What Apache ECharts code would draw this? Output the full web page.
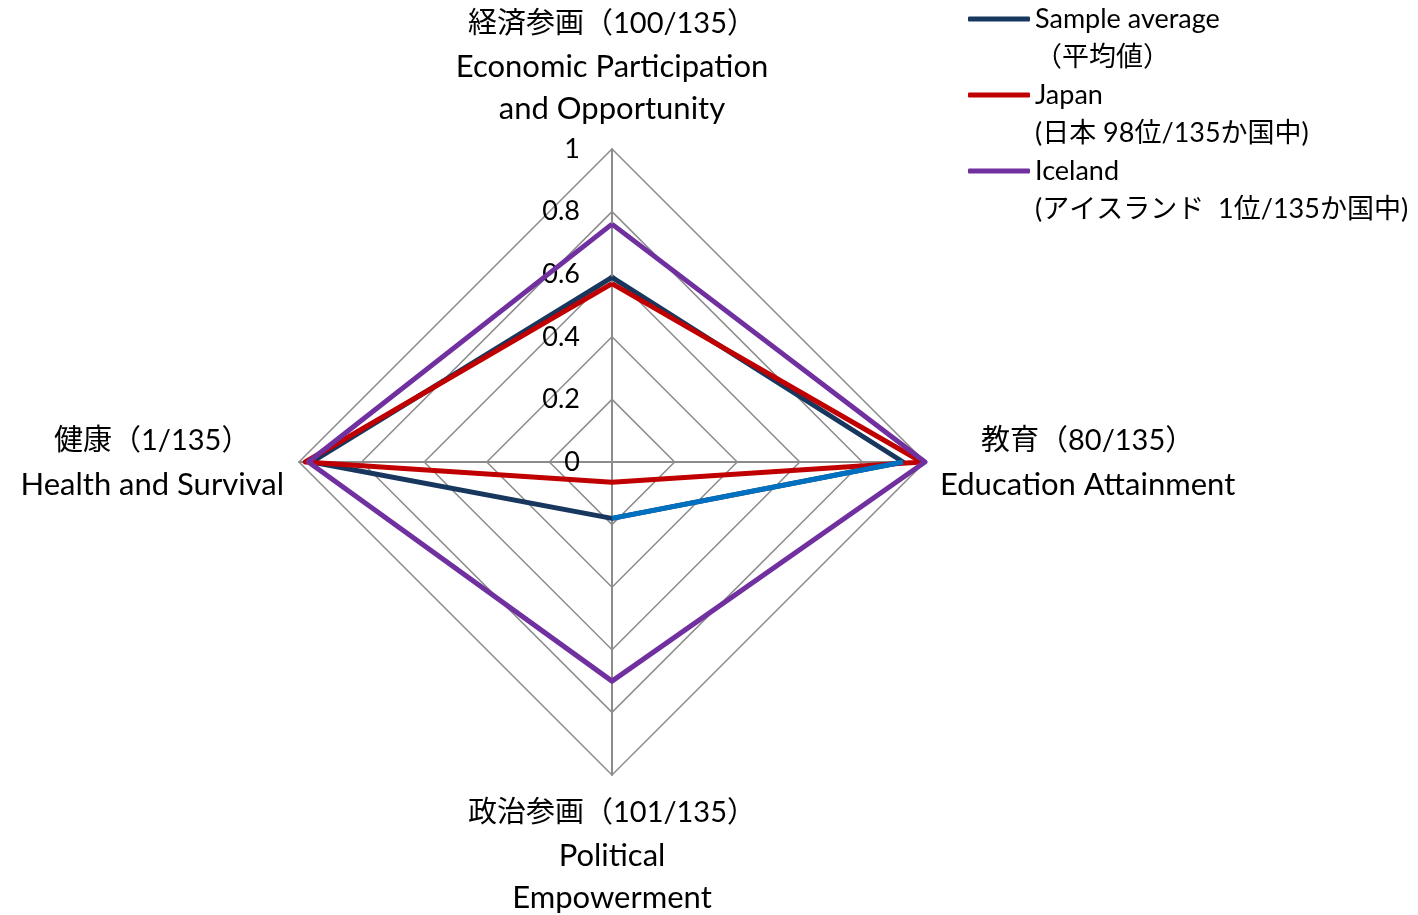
<!DOCTYPE html>
<html>
<head>
<meta charset="utf-8">
<script src="https://cdn.jsdelivr.net/npm/echarts@6/dist/echarts.min.js"></script>
<style>
  html, body { margin: 0; padding: 0; background: #fff; }
  #chart { width: 1418px; height: 915px; }
</style>
</head>
<body>
<div id="chart"></div>
<script>
// Axes, listed counterclockwise starting from the top
const axisNamesJa = ['経済参画（100/135）', '健康（1/135）', '政治参画（101/135）', '教育（80/135）'];
const axisNamesEn = [
  ['Economic Participation', 'and Opportunity'],
  ['Health and Survival'],
  ['Political', 'Empowerment'],
  ['Education Attainment']
];

// Scores in the same axis order: economic, health, political, education
const seriesNames = [
  'Sample average\n（平均値）',
  'Japan\n(日本 98位/135か国中)',
  'Iceland\n(アイスランド  1位/135か国中)'
];
const sampleAverage = [0.59, 0.96, 0.18, 0.93];
const japan = [0.57, 0.98, 0.065, 0.99];
const iceland = [0.76, 0.97, 0.70, 1.0];

// Scale ticks shown along the upward axis
const tickStep = 0.2;

const FONT = "Lato, 'Noto Sans CJK JP', sans-serif";
const colors = ['#17375E', '#C00000', '#7030A0'];
const segmentColor = '#0070C0';

const cx = 612, cy = 462, R = 313;

const chart = echarts.init(document.getElementById('chart'), null, { renderer: 'canvas' });

function radarSeries(name, values, color) {
  return {
    type: 'radar',
    name: name,
    symbol: 'none',
    lineStyle: { color: color, width: 5 },
    itemStyle: { color: color },
    data: [{ name: name, value: values }]
  };
}

const option = {
  backgroundColor: '#ffffff',
  animation: false,
  textStyle: { fontFamily: FONT },
  legend: {
    data: seriesNames,
    orient: 'vertical',
    left: 968,
    top: -38,
    padding: 0,
    itemWidth: 62,
    itemHeight: 5,
    itemGap: -38,
    icon: 'roundRect',
    selectedMode: false,
    formatter: function (name) { return '\n' + name; },
    textStyle: { fontFamily: FONT, fontSize: 27, color: '#000', lineHeight: 38 }
  },
  radar: {
    center: [cx, cy],
    radius: R,
    startAngle: 90,
    shape: 'polygon',
    splitNumber: 5,
    nameGap: 15,
    indicator: axisNamesJa.map(function (n) { return { name: n, min: 0, max: 1 }; }),
    axisName: {
      color: '#000',
      formatter: function (name) {
        const i = axisNamesJa.indexOf(name);
        // the label above the top vertex sits a little higher
        const suffix = i === 0 ? 'Top' : '';
        const lines = ['{ja' + suffix + '|' + name + '}'];
        axisNamesEn[i].forEach(function (l) {
          lines.push('{en' + suffix + '|' + l + '}');
        });
        return lines.join('\n');
      },
      rich: {
        ja: { fontFamily: FONT, fontSize: 29, lineHeight: 45, color: '#000', align: 'center' },
        en: { fontFamily: FONT, fontSize: 31, lineHeight: 42, color: '#000', align: 'center' },
        jaTop: { fontFamily: FONT, fontSize: 29, lineHeight: 45, color: '#000', align: 'center', padding: [0, 0, 8, 0] },
        enTop: { fontFamily: FONT, fontSize: 31, lineHeight: 42, color: '#000', align: 'center', padding: [0, 0, 8, 0] }
      }
    },
    axisLine: { lineStyle: { color: '#8c8c8c', width: 2 } },
    splitLine: { lineStyle: { color: '#8c8c8c', width: 1.5 } },
    splitArea: { show: false },
    axisTick: { show: false },
    axisLabel: { show: false }
  },
  // Cartesian frame laid over the radar square, used for the scale labels
  // and for the highlighted education–political segment of the average
  grid: { left: cx - R, top: cy - R, width: 2 * R, height: 2 * R, containLabel: false },
  xAxis: {
    type: 'value', min: -1, max: 1, show: false
  },
  yAxis: {
    type: 'value', min: -1, max: 1, interval: tickStep,
    position: 'left', offset: -R,
    axisLine: { show: false }, axisTick: { show: false }, splitLine: { show: false },
    axisLabel: {
      margin: 32,
      color: '#000',
      fontFamily: FONT,
      fontSize: 27,
      formatter: function (v) {
        if (v < -1e-9) return '';
        return String(Math.round(v * 10) / 10);
      }
    }
  },
  series: [
    radarSeries(seriesNames[0], sampleAverage, colors[0]),
    {
      type: 'line',
      name: 'segment',
      symbol: 'none',
      silent: true,
      lineStyle: { color: segmentColor, width: 5 },
      data: [[sampleAverage[3], 0], [0, -sampleAverage[2]]]
    },
    radarSeries(seriesNames[1], japan, colors[1]),
    radarSeries(seriesNames[2], iceland, colors[2])
  ]
};

chart.setOption(option);
</script>
</body>
</html>
